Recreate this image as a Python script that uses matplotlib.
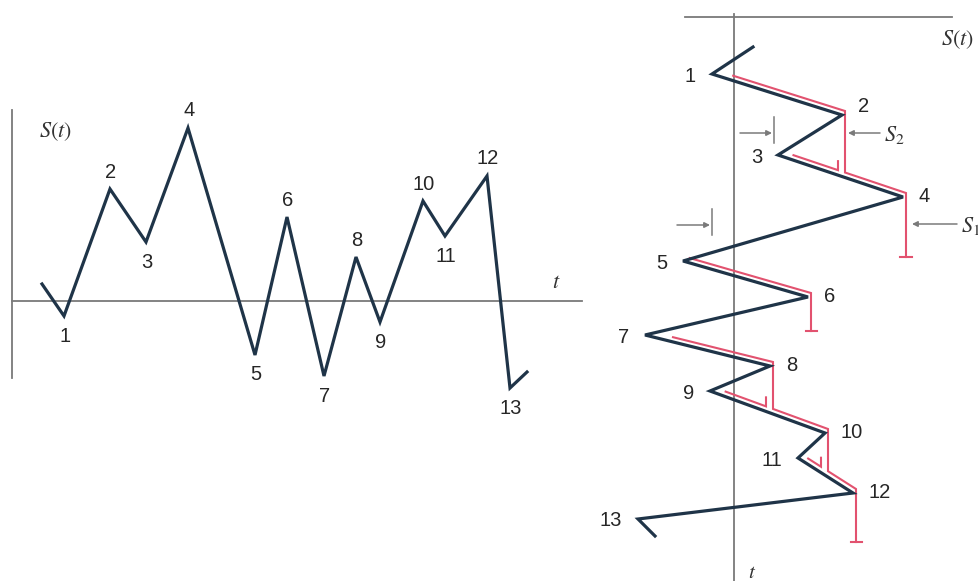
import numpy as np
import matplotlib.pyplot as plt
import matplotlib.transforms as mtransforms

plt.rcParams['mathtext.fontset'] = 'stix'
plt.rcParams['font.family'] = ['Liberation Sans', 'DejaVu Sans']

# --- DATA: left panel, S(t) against t ---
left_t = [0.0, 2.2, 6.8, 10.4, 14.6, 21.3, 24.5, 28.2, 31.4, 33.8, 38.1, 40.3, 44.5, 46.8, 48.5]
left_s = [1.7, -1.5, 11.2, 5.9, 17.3, -5.4, 8.4, -7.5, 4.4, -2.1, 10.0, 6.5, 12.5, -8.7, -7.1]
left_labels = ['', '1', '2', '3', '4', '5', '6', '7', '8', '9', '10', '11', '12', '13', '']

# --- DATA: right panel, rotated (time runs down) ---
right_t = [0.0, 2.7, 6.8, 10.8, 15.0, 21.4, 25.0, 28.8, 31.9, 34.4, 38.6, 41.1, 44.6, 47.2, 48.9]
right_s = [1.9, -2.2, 10.8, 4.4, 16.9, -5.1, 7.4, -8.9, 3.6, -2.4, 9.1, 6.4, 11.9, -9.6, -7.9]
right_labels = ['', '1', '2', '3', '4', '5', '6', '7', '8', '9', '10', '11', '12', '13', '']

NAVY = '#1f3448'
RED = '#e2526f'
GREY = '#7a7a7a'
TXT = '#262626'

W, H = 979, 581
fig = plt.figure(figsize=(W / 100, H / 100), dpi=100)


def px_axes(x0, y0, x1, y1):
    # axes placed by pixel box (top-left origin)
    return fig.add_axes([x0 / W, 1 - y1 / H, (x1 - x0) / W, (y1 - y0) / H])


# ---------------- left panel ----------------
axl = px_axes(0, 90, 600, 430)
axl.set_xlim(-4.2, 55.8)
axl.set_ylim(-12.9, 21.1)
axl.axis('off')

axl.plot([-3.0, 54.0], [0, 0], color=GREY, lw=1.3)
axl.plot([-3.0, -3.0], [-7.7, 19.1], color=GREY, lw=1.3)
axl.plot(left_t, left_s, color=NAVY, lw=2.3, solid_joinstyle='miter')

for i, lab in enumerate(left_labels):
    if not lab:
        continue
    is_peak = left_s[i] > left_s[i - 1]
    off = 17 if is_peak else -20
    axl.annotate(lab, (left_t[i], left_s[i]), xytext=(1, off), textcoords='offset pixels',
                 ha='center', va='center', fontsize=14.5, color=TXT)

axl.text(1.3, 16.9, r'$S(t)$', fontsize=16, ha='center', va='center', color='#333333')
axl.text(51.4, 1.8, r'$t$', fontsize=16, ha='center', va='center', color='#333333')

# ---------------- right panel ----------------
axr = px_axes(600, 0, 979, 581)
axr.set_xlim(-13.4, 24.5)
axr.set_ylim(53.4, -4.7)
axr.axis('off')

axr.plot([-4.9, 21.8], [-3.0, -3.0], color=GREY, lw=1.3)
axr.plot([0, 0], [-3.3, 53.4], color=GREY, lw=1.3)


def t_at(i, s):
    # time on segment i -> i+1 where the signal reaches s
    return right_t[i] + (s - right_s[i]) / (right_s[i + 1] - right_s[i]) * (right_t[i + 1] - right_t[i])


def along(i, f):
    return (right_s[i] + f * (right_s[i + 1] - right_s[i]),
            right_t[i] + f * (right_t[i + 1] - right_t[i]))


red_tr = mtransforms.offset_copy(axr.transData, fig=fig, x=3, y=4, units='dots')
S = right_s
T = right_t

# main flows (drip down to the next level)
s0, t0 = along(1, 0.14)
path_a = [(s0, t0), (S[2], T[2]), (S[2], t_at(3, S[2])), (S[4], T[4]), (S[4], T[5])]
s0, t0 = along(5, 0.03)
path_c = [(s0, t0), (S[6], T[6]), (S[6], T[7])]
s0, t0 = along(7, 0.2)
path_d = [(s0, t0), (S[8], T[8]), (S[8], t_at(9, S[8])), (S[10], T[10]),
          (S[10], t_at(11, S[10])), (S[12], T[12]), (S[12], T[14] + 1.0)]
for p in [path_a, path_c, path_d]:
    xs, ys = zip(*p)
    axr.plot(xs, ys, color=RED, lw=1.5, transform=red_tr, solid_joinstyle='miter')
    axr.plot([xs[-1] - 0.55, xs[-1] + 0.55], [ys[-1], ys[-1]], color=RED, lw=1.5, transform=red_tr)

# interrupted flows (stop at the flow from above)
stops = [(3, 0.1, S[2]), (9, 0.11, S[8]), (11, 0.13, S[10])]
for i, f, s_stop in stops:
    s0, t0 = along(i, f)
    s1 = s_stop - 0.7
    t1 = t_at(i, s1)
    axr.plot([s0, s1, s1], [t0, t1, t1 - 0.9], color=RED, lw=1.5, transform=red_tr,
             solid_joinstyle='miter')

axr.plot(right_s, right_t, color=NAVY, lw=2.3, solid_joinstyle='miter')

for i, lab in enumerate(right_labels):
    if not lab:
        continue
    is_peak = right_s[i] > right_s[i - 1]
    if is_peak:
        axr.annotate(lab, (right_s[i], right_t[i]), xytext=(16, 9 if i == 2 else 1),
                     textcoords='offset pixels', ha='left', va='center', fontsize=14.5, color=TXT)
    else:
        axr.annotate(lab, (right_s[i], right_t[i]), xytext=(-16, -2),
                     textcoords='offset pixels', ha='right', va='center', fontsize=14.5, color=TXT)

# dimension markers
for t_lvl, s_bar, s_from in [(8.6, 4.0, 0.6), (17.8, -2.2, -5.7)]:
    axr.annotate('', xy=(s_bar - 0.2, t_lvl), xytext=(s_from, t_lvl),
                 arrowprops=dict(arrowstyle='-|>', color=GREY, lw=1.1, mutation_scale=8,
                                 shrinkA=0, shrinkB=0))
    axr.plot([s_bar, s_bar], [t_lvl - 1.6, t_lvl + 1.0], color=GREY, lw=1.1)

for t_lvl, s_to, s_from, lab in [(8.6, 11.4, 14.6, r'$S_2$'), (17.7, 17.8, 22.3, r'$S_1$')]:
    axr.annotate('', xy=(s_to, t_lvl), xytext=(s_from, t_lvl),
                 arrowprops=dict(arrowstyle='-|>', color=GREY, lw=1.1, mutation_scale=8,
                                 shrinkA=0, shrinkB=0))
    axr.text(s_from + 0.4, t_lvl + 0.2, lab, fontsize=16, ha='left', va='center', color='#333333')

axr.text(22.3, -0.7, r'$S(t)$', fontsize=16, ha='center', va='center', color='#333333')
axr.text(1.8, 52.5, r'$t$', fontsize=15, ha='center', va='center', color='#333333')

plt.savefig('out.png', dpi=100)
